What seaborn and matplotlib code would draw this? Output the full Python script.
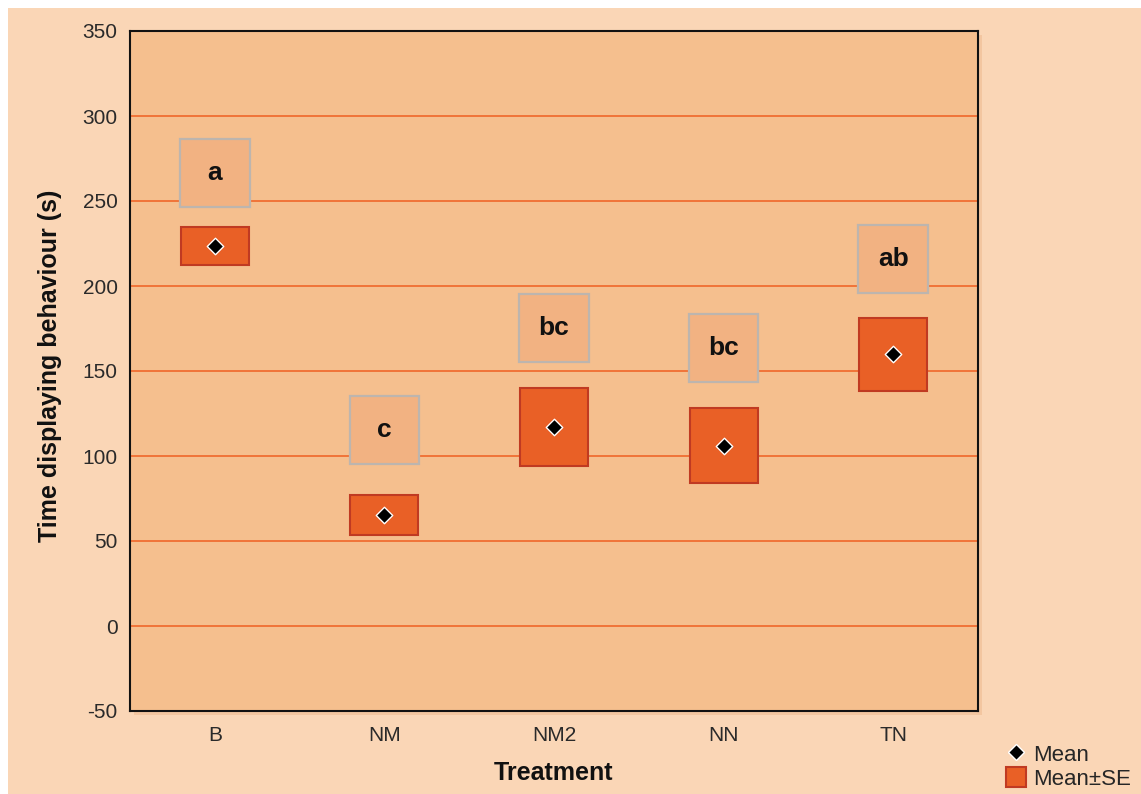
"""Tiempo mostrando comportamiento por tratamiento (media +- SE)."""

import matplotlib.pyplot as plt
import matplotlib.patches as mpatches
from matplotlib.lines import Line2D
import numpy as np
import pandas as pd
import seaborn as sns

# Datos
treatments = ["B", "NM", "NM2", "NN", "TN"]
means = [223.5, 65.3, 117.2, 106.1, 159.8]
se = [11.2, 11.9, 22.9, 22.0, 21.5]
letters = ["a", "c", "bc", "bc", "ab"]
letter_y = [266.2, 115.3, 175.2, 163.7, 215.9]
y_ticks = [-50, 0, 50, 100, 150, 200, 250, 300, 350]

# Colores
FIG_BG = "#FAD6B6"
AX_BG = "#F5BF8E"
GRID = "#F06E32"
BOX_FILL = "#E96026"
BOX_EDGE = "#C03A22"
LET_FILL = "#F2B282"
LET_EDGE = "#BDB5AE"

sns.set_style("white")
plt.rcParams["font.family"] = ["Liberation Sans", "DejaVu Sans"]
plt.rcParams["axes.unicode_minus"] = False

df = pd.DataFrame({"Treatment": treatments, "Mean": means, "SE": se,
                   "Letter": letters, "LetterY": letter_y})

fig = plt.figure(figsize=(11.41, 7.94), dpi=100, facecolor="white")
# fondo durazno con borde blanco arriba e izquierda
fig.patches.append(mpatches.Rectangle((8 / 1141, 0), 1, 786 / 794, transform=fig.transFigure,
                                      facecolor=FIG_BG, edgecolor="none", zorder=-10))
left, bottom, width, height = 130 / 1141, 83 / 794, 848 / 1141, 680 / 794
# sombra del area de graficado
fig.patches.append(mpatches.Rectangle((left + 4 / 1141, bottom - 4 / 794), width, height,
                                      transform=fig.transFigure, facecolor="#F3C6A0",
                                      edgecolor="none", zorder=-5))
ax = fig.add_axes([left, bottom, width, height])
ax.set_facecolor(AX_BG)

# Cajas Mean +- SE
ax.bar(df["Treatment"], 2 * df["SE"], bottom=df["Mean"] - df["SE"], width=0.40,
       color=BOX_FILL, edgecolor=BOX_EDGE, linewidth=1.5, zorder=3)

# Cajas con letras de significancia
ax.bar(df["Treatment"], 40, bottom=df["LetterY"] - 20, width=0.41,
       color=LET_FILL, edgecolor=LET_EDGE, linewidth=1.6, zorder=3)
for i, row in df.iterrows():
    ax.text(i, row["LetterY"], row["Letter"], ha="center", va="center",
            fontsize=19, fontweight="bold", color="#111111", zorder=4)

# Medias
sns.scatterplot(data=df, x="Treatment", y="Mean", marker="D", s=70, color="black",
                edgecolor="white", linewidth=1, zorder=5, ax=ax, legend=False)

ax.set_xlim(-0.5, 4.5)
ax.set_ylim(-50, 350)
ax.set_yticks(y_ticks)
ax.yaxis.grid(True, color=GRID, linewidth=1.3)
ax.xaxis.grid(False)
ax.set_axisbelow(True)
for sp in ax.spines.values():
    sp.set_color("#111111")
    sp.set_linewidth(1.5)
ax.tick_params(direction="in", length=3, width=1, colors="#111111",
               labelcolor="#2a2a2a", labelsize=15)
ax.tick_params(axis="y", pad=9)
ax.tick_params(axis="x", pad=11)

ax.set_xlabel("Treatment", fontsize=18, fontweight="bold", color="#111111")
ax.set_ylabel("Time displaying behaviour (s)", fontsize=18, fontweight="bold", color="#111111")
ax.xaxis.set_label_coords(0.5, -0.073)
ax.yaxis.set_label_coords(-0.08, 0.507)

handles = [
    Line2D([], [], marker="D", linestyle="none", markersize=8, markerfacecolor="black",
           markeredgecolor="white", markeredgewidth=1),
    mpatches.Patch(facecolor=BOX_FILL, edgecolor=BOX_EDGE, linewidth=1.5),
]
fig.legend(handles, ["Mean", "Mean\u00b1SE"], loc="lower right",
           bbox_to_anchor=(1133 / 1141, 2 / 794), frameon=False, fontsize=16,
           labelspacing=0.05, handletextpad=0.3, handlelength=0.9, handleheight=1.0,
           borderpad=0.1, borderaxespad=0)

fig.savefig("out.png", dpi=100, facecolor="white")
